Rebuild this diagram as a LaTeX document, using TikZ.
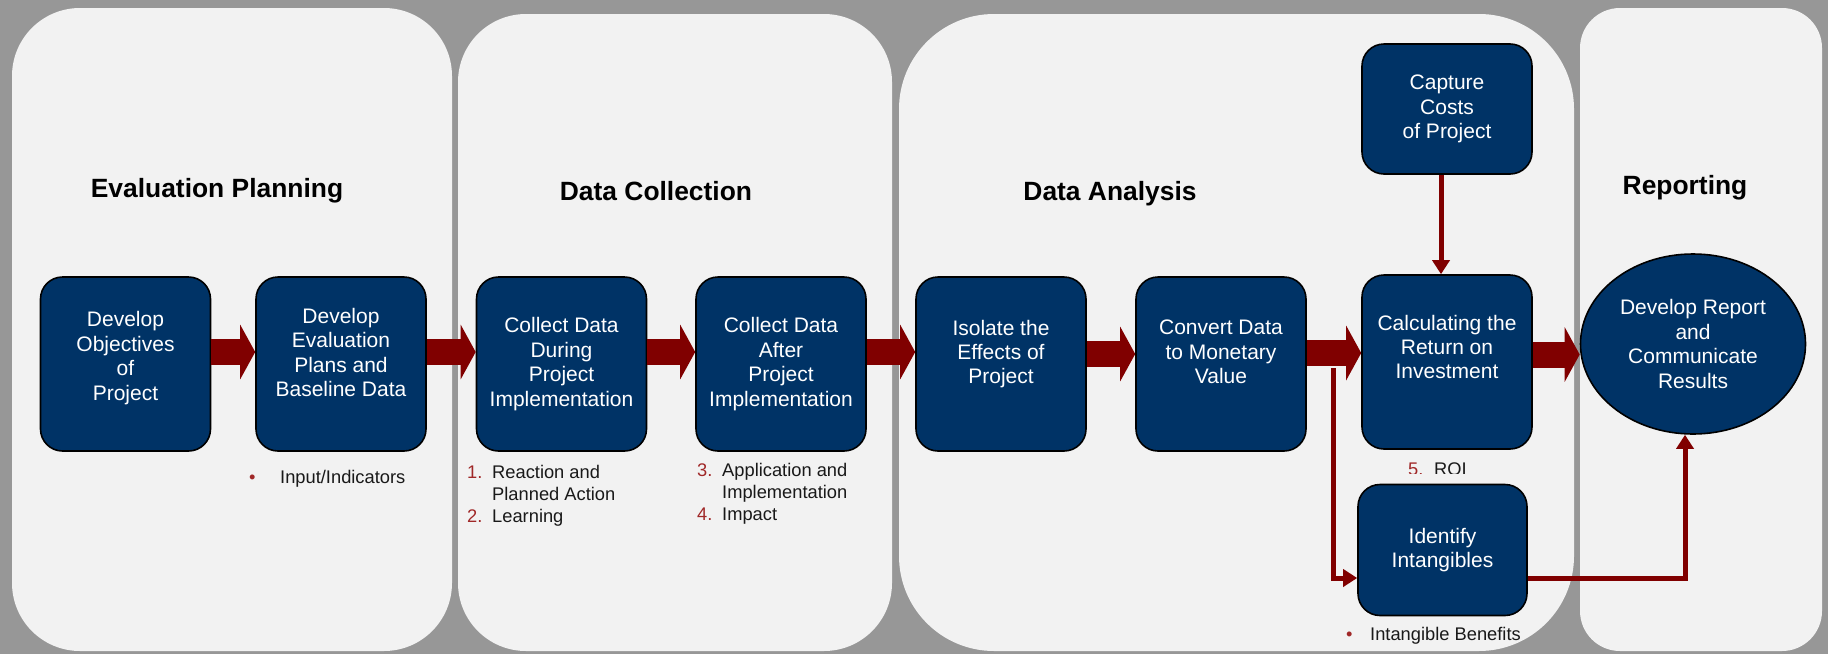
\documentclass[tikz,border=0pt]{standalone}
\usepackage{fontspec}
\setmainfont{Liberation Sans}
\usetikzlibrary{arrows.meta,shapes.geometric}
\definecolor{navy}{RGB}{0,51,102}
\definecolor{arrred}{RGB}{128,0,0}
\definecolor{numred}{RGB}{160,40,40}
\definecolor{panelgray}{RGB}{242,242,242}
\definecolor{backgray}{RGB}{151,151,151}
\newcommand{\nr}[1]{\makebox[25pt][l]{\color{numred}#1}}
\newcommand{\bul}[1]{\makebox[#1][l]{\color{numred}\textbullet}}

\begin{document}
\begin{tikzpicture}[x=1pt,y=-1pt,
    panel/.style={fill=panelgray},
    stage/.style={draw=black,line width=1.6pt,fill=navy,rounded corners=22pt,text=white,align=center,
      minimum width=170pt,minimum height=174pt,inner sep=0pt,font=\fontsize{21}{24.4}\selectfont},
    phase/.style={anchor=base,font=\fontsize{26.4}{30}\selectfont\bfseries},
    note/.style={anchor=north west,align=left,inner sep=0pt,text=black!90,font=\fontsize{18.3}{22}\selectfont},
    bigarrow/.style={draw=arrred,line width=26pt,-{Triangle[length=15pt,width=54pt]}},
    thinarrow/.style={draw=arrred,line width=5pt,-{Triangle[length=14pt,width=17pt]}}]
    \fill[backgray](0,0) rectangle (1828,654);
    \fill[panel,rounded corners=68pt](12,8) rectangle (452,651);
    \fill[panel,rounded corners=68pt](458,14) rectangle (892,651);
    \fill[panel,rounded corners=95pt](899,14) rectangle (1574,651);
    \fill[panel,rounded corners=40pt](1580,8) rectangle (1822,651);

    \node[phase] (tplan) at (217,197) {Evaluation Planning};
    \node[phase] (tcoll) at (656,200) {Data Collection};
    \node[phase] (tana) at (1110,200) {Data Analysis};
    \node[phase] (trep) at (1685,194) {Reporting};

    \node[stage] (objec) at (125.5,364) {Develop\\Objectives\\of\\Project\\[-8pt]~};
    \node[stage] (plans) at (341,364) {Develop\\Evaluation\\Plans and\\Baseline Data\\[-1pt]~};
    \node[stage] (during) at (561.5,364) {Collect Data\\During\\Project\\Implementation};
    \node[stage] (after) at (781,364) {Collect Data\\After\\Project\\Implementation};
    \node[stage] (isolate) at (1001,364) {Isolate the\\Effects of\\Project\\~};
    \node[stage] (convert) at (1221,364) {Convert Data\\to Monetary\\Value\\~};
    \node[stage] (roi) at (1447,362) {Calculating the\\Return on\\Investment\\[6pt]~};
    \node[stage,minimum height=130pt] (costs) at (1447,109) {Capture\\Costs\\of Project};
    \node[stage,minimum width=169pt,minimum height=131pt] (intang) at (1442.5,550) {Identify\\Intangibles};
    \node[stage,ellipse,sharp corners,minimum width=225pt,minimum height=180pt] (report) at (1693,344) {Develop Report\\and\\Communicate\\Results};

    \draw[bigarrow]([yshift=12pt]objec.east)--([yshift=12pt]plans.west);
    \draw[bigarrow]([yshift=12pt]plans.east)--([yshift=12pt]during.west);
    \draw[bigarrow]([yshift=12pt]during.east)--([yshift=12pt]after.west);
    \draw[bigarrow]([yshift=12pt]after.east)--([yshift=12pt]isolate.west);
    \draw[bigarrow]([yshift=10pt]isolate.east)--([yshift=10pt]convert.west);
    \draw[bigarrow]([yshift=11pt]convert.east)--([yshift=11pt]convert.east-|roi.west);
    \draw[bigarrow]([yshift=7.5pt]roi.east)--([yshift=7.5pt]roi.east-|report.west);

    \coordinate (split) at (1333,368);
    \draw[thinarrow](split)|-([yshift=-28pt]intang.west);
    \draw[thinarrow]([yshift=-28pt]intang.east)-|([xshift=-8pt]report.south);
    \draw[thinarrow]([xshift=-6pt]costs.south)--([xshift=-6pt]roi.north);

    \node[note] (inputs) at (249,470) {\bul{31pt}Input/Indicators};
    \node[note] (levels12) at (467,465) {\nr{1.}Reaction and\\\nr{}Planned Action\\\nr{2.}Learning};
    \node[note] (levels34) at (697,463) {\nr{3.}Application and\\\nr{}Implementation\\\nr{4.}Impact};
    \begin{scope}
      \clip (1390,440) rectangle (1480,473);
      \node[note] (level5) at (1408,463) {\makebox[26pt][l]{\color{numred}5.}ROI};
    \end{scope}
    \node[note] (benefits) at (1346,627) {\bul{24pt}Intangible Benefits};
  \end{tikzpicture}
\end{document}
